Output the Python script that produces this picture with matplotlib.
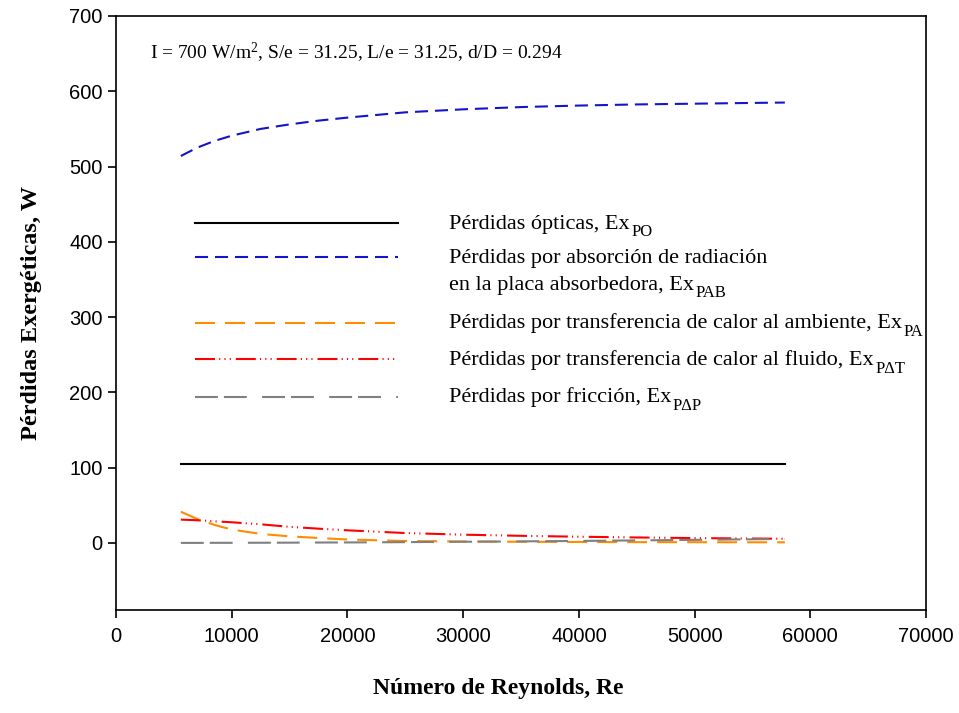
import numpy as np
import matplotlib
matplotlib.use("Agg")
import matplotlib.pyplot as plt

# Reynolds numbers and exergy losses (W) for each loss mechanism
re = [5600, 7000, 8500, 10000, 12500, 15000, 17500, 20000,
      25000, 30000, 35000, 40000, 45000, 50000, 55000, 57800]
ex_po = [105] * len(re)
ex_pab = [514, 525, 534, 541, 550, 556, 561, 565,
          572, 576, 579, 581, 582.5, 583.5, 584.5, 585]
ex_pa = [41.5, 32, 24, 17.8, 12, 8.8, 6.6, 4.6,
         2.6, 2.0, 1.6, 1.3, 1.1, 1.0, 0.9, 0.9]
ex_pdt = [31, 30.2, 28.8, 27.5, 24.8, 21.4, 19, 16.8,
          13.2, 11, 9.5, 8.3, 7.3, 6.5, 5.9, 5.6]
ex_pdp = [0.1, 0.1, 0.2, 0.2, 0.3, 0.4, 0.6, 0.7,
          1.1, 1.6, 2.1, 2.7, 3.4, 4.1, 4.9, 5.3]

# legend text: (main text, subscript) per line
labels = [
    [("Pérdidas ópticas, Ex", "PO")],
    [("Pérdidas por absorción de radiación", ""),
     ("en la placa absorbedora, Ex", "PAB")],
    [("Pérdidas por transferencia de calor al ambiente, Ex", "PA")],
    [("Pérdidas por transferencia de calor al fluido, Ex", "P\u0394T")],
    [("Pérdidas por fricción, Ex", "P\u0394P")],
]
note = "I = 700 W/m$^{2}$, S/e = 31.25, L/e = 31.25, d/D = 0.294"

plt.rcParams["lines.scale_dashes"] = False
plt.rcParams["mathtext.fontset"] = "custom"
plt.rcParams["mathtext.rm"] = "Liberation Serif"
plt.rcParams["mathtext.it"] = "Liberation Serif:italic"
plt.rcParams["mathtext.bf"] = "Liberation Serif:bold"

styles = [
    dict(color="black", linestyle="-"),
    dict(color="#1414c8", dashes=(9.4, 5)),
    dict(color="#ff8c00", dashes=(14.4, 7.2)),
    dict(color="#ff0000", dashes=(14.4, 3, 0.8, 3, 0.8, 3, 0.8, 3.6)),
    dict(color="#808080", dashes=(16.5, 4.3, 16.5, 11)),
]
series = [ex_po, ex_pab, ex_pa, ex_pdt, ex_pdp]

fig = plt.figure(figsize=(9.59, 7.13), dpi=100)
ax = fig.add_axes([0.121, 0.1445, 0.8446, 0.8331])

for y, st in zip(series, styles):
    ax.plot(re, y, linewidth=1.5, **st)

ax.set_xlim(0, 70000)
ax.set_ylim(-89, 700)
ax.set_xticks(np.arange(0, 70001, 10000))
ax.set_yticks(np.arange(0, 701, 100))
for sp in ax.spines.values():
    sp.set_linewidth(1.2)
ax.tick_params(direction="out", length=6, width=1.2, labelsize=14.5,
               top=False, right=False)
for lab in ax.get_xticklabels() + ax.get_yticklabels():
    lab.set_fontfamily("Liberation Sans")
ax.tick_params(axis="x", pad=6)

ax.set_xlabel("Número de Reynolds, Re", fontfamily="Liberation Serif",
              fontweight="bold", fontsize=17, labelpad=26)
ax.xaxis.set_label_coords(0.472, -0.115)
ax.set_ylabel("Pérdidas Exergéticas, W", fontfamily="Liberation Serif",
              fontweight="bold", fontsize=17.5, labelpad=20)

ax.text(0.042, 0.938, note, transform=ax.transAxes, fontsize=14,
        fontfamily="Liberation Serif", va="center")

# hand-placed legend
fig.canvas.draw()
renderer = fig.canvas.get_renderer()
leg_y = [0.6515, 0.594, 0.4837, 0.422, 0.359]
for ly, st, lab in zip(leg_y, styles, labels):
    ax.plot([0.0975, 0.348], [ly, ly], transform=ax.transAxes,
            linewidth=1.5, **st)
    for i, (main, sub) in enumerate(lab):
        yb = ly - 0.0095 - i * 0.045
        t = ax.text(0.411, yb, main, transform=ax.transAxes,
                    fontsize=16, fontfamily="Liberation Serif",
                    va="baseline")
        if sub:
            bb = t.get_window_extent(renderer)
            x_end = ax.transAxes.inverted().transform((bb.x1, bb.y0))[0]
            ax.text(x_end + 0.002, yb - 0.013, sub, transform=ax.transAxes,
                    fontsize=12, fontfamily="Liberation Serif",
                    va="baseline")

fig.savefig("out.png", dpi=100)
